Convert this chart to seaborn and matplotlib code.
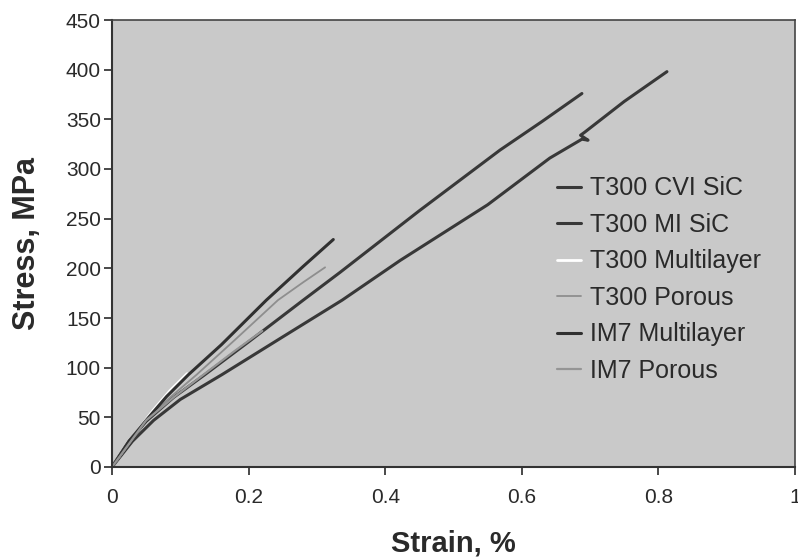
import matplotlib
matplotlib.use("Agg")
import matplotlib.pyplot as plt
import seaborn as sns
import pandas as pd

# ---- data ----
labels = ["T300 CVI SiC", "T300 MI SiC", "T300 Multilayer", "T300 Porous",
          "IM7 Multilayer", "IM7 Porous"]

cvi_strain = [0, 0.03, 0.061, 0.10, 0.161, 0.25, 0.337, 0.422, 0.55, 0.641,
              0.688, 0.697, 0.686, 0.692, 0.75, 0.8125]
cvi_stress = [0, 26, 47, 68, 93, 131, 168, 208, 264, 311,
              330, 329, 334, 337, 368, 398]

mi_strain = [0, 0.025, 0.05, 0.09, 0.136, 0.2, 0.28, 0.334, 0.45, 0.568, 0.63, 0.688]
mi_stress = [0, 26, 46, 70, 93, 126, 168, 196, 258, 319, 348, 376]

t300ml_strain = [0, 0.03, 0.06, 0.085, 0.11]
t300ml_stress = [0, 30, 57, 77, 94]

t300p_strain = [0, 0.05, 0.085, 0.124, 0.18, 0.243, 0.28, 0.312]
t300p_stress = [0, 47, 70, 93, 128, 168, 186, 201]

im7ml_strain = [0, 0.025, 0.05, 0.08, 0.112, 0.16, 0.226, 0.28, 0.324]
im7ml_stress = [0, 26, 47, 71, 93, 123, 168, 202, 229]

im7p_strain = [0, 0.05, 0.09, 0.136, 0.18, 0.22]
im7p_stress = [0, 47, 70, 94, 117, 137]

x_ticks = [0, 0.2, 0.4, 0.6, 0.8, 1]
x_tick_labels = ["0", "0.2", "0.4", "0.6", "0.8", "1"]
y_ticks = [0, 50, 100, 150, 200, 250, 300, 350, 400, 450]

series = [
    (labels[0], cvi_strain, cvi_stress),
    (labels[1], mi_strain, mi_stress),
    (labels[2], t300ml_strain, t300ml_stress),
    (labels[3], t300p_strain, t300p_stress),
    (labels[4], im7ml_strain, im7ml_stress),
    (labels[5], im7p_strain, im7p_stress),
]
styles = {
    "T300 CVI SiC": dict(color="#383838", lw=2.2),
    "T300 MI SiC": dict(color="#383838", lw=2.2),
    "T300 Multilayer": dict(color="#ffffff", lw=2.0),
    "T300 Porous": dict(color="#8e8e8e", lw=1.3),
    "IM7 Multilayer": dict(color="#303030", lw=2.2),
    "IM7 Porous": dict(color="#959595", lw=1.6),
}

frames = []
for name, xs, ys in series:
    frames.append(pd.DataFrame({"Strain": xs, "Stress": ys, "Series": name}))
df = pd.concat(frames, ignore_index=True)

# ---- plot ----
sns.set_theme(style="ticks")
plt.rcParams["font.family"] = ["Liberation Sans", "DejaVu Sans"]

fig = plt.figure(figsize=(7.98, 5.59), dpi=100)
ax = fig.add_axes([112 / 798, 1 - 467 / 559, (795 - 112) / 798, (467 - 20) / 559])
ax.set_facecolor("#c9c9c9")

for name in labels:
    sub = df[df["Series"] == name]
    sns.lineplot(data=sub, x="Strain", y="Stress", sort=False, estimator=None,
                 ax=ax, label=name, **styles[name])

ax.set_xlim(0, 1)
ax.set_ylim(0, 450)
ax.set_xticks(x_ticks)
ax.set_xticklabels(x_tick_labels)
ax.set_yticks(y_ticks)
txt = "#2a2a2a"
ax.tick_params(axis="both", direction="out", length=6, width=1.2, colors=txt,
               labelsize=15, pad=2)
ax.tick_params(axis="x", pad=9)
for side in ["left", "bottom"]:
    ax.spines[side].set_linewidth(1.5)
    ax.spines[side].set_color("#333333")
for side in ["top", "right"]:
    ax.spines[side].set_visible(True)
    ax.spines[side].set_linewidth(1.2)
    ax.spines[side].set_color("#444444")

ax.set_xlabel("Strain, %", fontsize=21, fontweight="bold", color=txt, labelpad=16)
ax.set_ylabel("Stress, MPa", fontsize=22, fontweight="bold", color=txt, labelpad=17)

leg = ax.legend(loc="upper left", bbox_to_anchor=(0.652, 0.65), frameon=False,
                fontsize=18, handlelength=0.95, handletextpad=0.35,
                labelspacing=0.5, borderaxespad=0, borderpad=0)
for t in leg.get_texts():
    t.set_color(txt)

fig.savefig("out.png", dpi=100)
